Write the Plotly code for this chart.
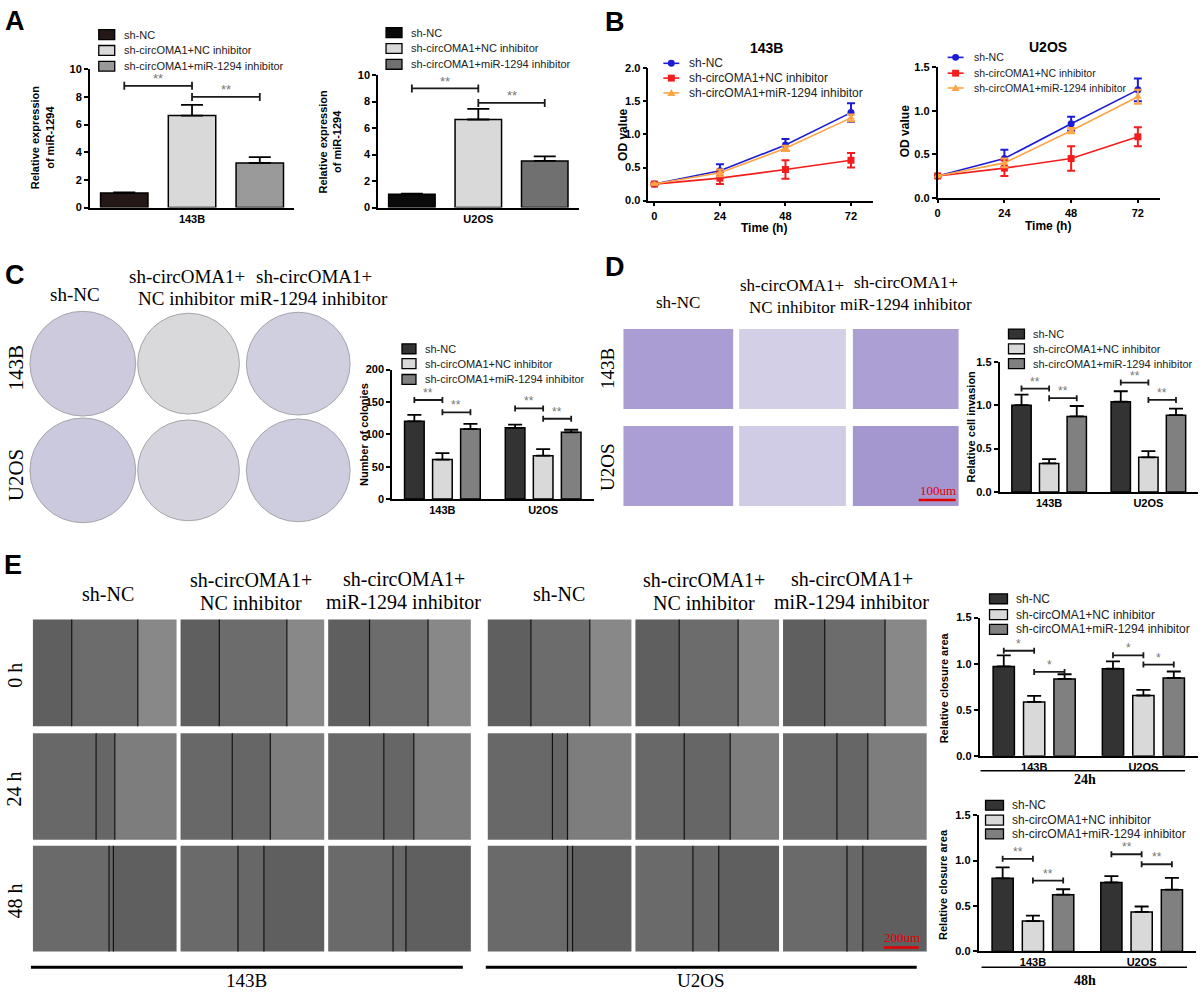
import plotly.graph_objects as go

W, H = 1201, 998
SANS = "Liberation Sans, Arial, sans-serif"
SERIF = "Liberation Serif, Times New Roman, serif"

groups = ["143B", "U2OS"]
series = ["sh-NC", "sh-circOMA1+NC inhibitor", "sh-circOMA1+miR-1294 inhibitor"]

# A - relative expression of miR-1294 (sh-NC, NC inhibitor, miR-1294 inhibitor)
mir_143b = [1.05, 6.65, 3.22]
mir_143b_err = [0.05, 0.78, 0.42]
mir_u2os = [1.00, 6.65, 3.52]
mir_u2os_err = [0.05, 0.80, 0.35]

# B - OD value over time
hours = [0, 24, 48, 72]
od_143b_nc = [0.25, 0.45, 0.84, 1.33]
od_143b_nc_err = [0.01, 0.10, 0.09, 0.14]
od_143b_nci = [0.25, 0.34, 0.47, 0.61]
od_143b_nci_err = [0.01, 0.09, 0.14, 0.11]
od_143b_mir = [0.25, 0.42, 0.79, 1.25]
od_143b_mir_err = [0.01, 0.05, 0.04, 0.05]
od_u2os_nc = [0.25, 0.45, 0.85, 1.24]
od_u2os_nc_err = [0.01, 0.10, 0.08, 0.13]
od_u2os_nci = [0.25, 0.34, 0.45, 0.70]
od_u2os_nci_err = [0.01, 0.09, 0.14, 0.11]
od_u2os_mir = [0.25, 0.40, 0.77, 1.16]
od_u2os_mir_err = [0.01, 0.05, 0.03, 0.08]

# C - number of colonies (143B, U2OS)
colonies_nc = [120, 110]
colonies_nc_err = [10, 5]
colonies_nci = [61, 67]
colonies_nci_err = [10, 10]
colonies_mir = [108, 103]
colonies_mir_err = [8, 4]

# D - relative cell invasion
invasion_nc = [1.00, 1.04]
invasion_nc_err = [0.12, 0.12]
invasion_nci = [0.33, 0.40]
invasion_nci_err = [0.05, 0.07]
invasion_mir = [0.87, 0.885]
invasion_mir_err = [0.12, 0.075]

# E - relative closure area
closure24_nc = [0.97, 0.945]
closure24_nc_err = [0.12, 0.08]
closure24_nci = [0.585, 0.655]
closure24_nci_err = [0.065, 0.06]
closure24_mir = [0.835, 0.845]
closure24_mir_err = [0.05, 0.07]
closure48_nc = [0.805, 0.76]
closure48_nc_err = [0.12, 0.07]
closure48_nci = [0.335, 0.435]
closure48_nci_err = [0.06, 0.06]
closure48_mir = [0.625, 0.68]
closure48_mir_err = [0.06, 0.13]

# significance brackets: (group, bar from, bar to, level, label)
sig_a_143b = [(0, 0, 1, 8.8, "**"), (0, 1, 2, 8.0, "**")]
sig_a_u2os = [(0, 0, 1, 9.0, "**"), (0, 1, 2, 7.9, "**")]
sig_colonies = [(0, 0, 1, 153, "**"), (0, 1, 2, 134, "**"), (1, 0, 1, 140, "**"), (1, 1, 2, 124, "**")]
sig_invasion = [(0, 0, 1, 1.19, "**"), (0, 1, 2, 1.08, "**"), (1, 0, 1, 1.26, "**"), (1, 1, 2, 1.06, "**")]
sig_24h = [(0, 0, 1, 1.14, "*"), (0, 1, 2, 0.91, "*"), (1, 0, 1, 1.09, "*"), (1, 1, 2, 0.99, "*")]
sig_48h = [(0, 0, 1, 1.02, "**"), (0, 1, 2, 0.78, "**"), (1, 0, 1, 1.07, "**"), (1, 1, 2, 0.96, "**")]

# wound edges in the scratch pictures, as fractions of picture width (0 h, 24 h, 48 h)
wound_143b = [[(0.27, 0.73), (0.27, 0.74), (0.29, 0.70)],
              [(0.44, 0.57), (0.36, 0.625), (0.39, 0.60)],
              [(0.53, 0.56), (0.40, 0.58), (0.455, 0.545)]]
wound_u2os = [[(0.30, 0.71), (0.305, 0.715), (0.29, 0.71)],
              [(0.45, 0.555), (0.34, 0.66), (0.375, 0.59)],
              [(0.555, 0.59), (0.40, 0.58), (0.445, 0.555)]]
time_labels = ["0 h", "24 h", "48 h"]

BARGAP = 0.165
SLOT = (1 - BARGAP) / 3
TICKFONT = dict(family=SANS, size=11, color="black", weight="bold")

traces = []
shapes = []
annotations = []
layout = dict(width=W, height=H, margin=dict(l=0, r=0, t=0, b=0),
              paper_bgcolor="white", plot_bgcolor="rgba(0,0,0,0)",
              barmode="group", bargap=BARGAP, bargroupgap=0.3, showlegend=False)


def px(x):
    return x / W


def py(y):
    return 1 - y / H


def label(x, y, s, size, family=SANS, bold=False, color="black", angle=0, xanchor="center"):
    annotations.append(dict(x=px(x), y=py(y), xref="paper", yref="paper", text=s, showarrow=False,
                            font=dict(family=family, size=size, color=color,
                                      weight="bold" if bold else "normal"),
                            textangle=angle, xanchor=xanchor, yanchor="middle"))


def rect(x0, y0, x1, y1, fill, line="black", lw=0):
    shapes.append(dict(type="rect", xref="paper", yref="paper", x0=px(x0), x1=px(x1),
                       y0=py(y1), y1=py(y0), fillcolor=fill,
                       line=dict(color=line, width=lw)))


def seg(x0, y0, x1, y1, color="black", w=1.5):
    shapes.append(dict(type="line", xref="paper", yref="paper", x0=px(x0), x1=px(x1),
                       y0=py(y0), y1=py(y1), line=dict(color=color, width=w)))


def axes(n, xpx, ypx, xr, yr, dtick, fmt, cat=True, tickvals=None):
    s = "" if n == 1 else str(n)
    xa = dict(domain=[px(xpx[0]), px(xpx[1])], anchor="y" + s, range=xr, showline=True,
              linecolor="black", linewidth=1.6, showgrid=False, zeroline=False,
              tickfont=TICKFONT, fixedrange=True)
    if cat:
        xa.update(type="category", ticks="")
    else:
        xa.update(ticks="outside", ticklen=4, tickwidth=1.6, tickcolor="black",
                  tickmode="array", tickvals=tickvals)
    ya = dict(domain=[py(ypx[1]), py(ypx[0])], anchor="x" + s, range=yr, dtick=dtick, tick0=0,
              showline=True, linecolor="black", linewidth=1.6, showgrid=False, zeroline=False,
              ticks="outside", ticklen=4, tickwidth=1.6, tickcolor="black",
              tickfont=TICKFONT, tickformat=fmt, fixedrange=True)
    layout["xaxis" + s] = xa
    layout["yaxis" + s] = ya
    return "x" + s, "y" + s


def bars(xref, yref, cats, vals, errs, colors, capw=7):
    for name, v, e, c in zip(series, vals, errs, colors):
        traces.append(go.Bar(x=cats, y=v, name=name, xaxis=xref, yaxis=yref,
                             marker=dict(color=c, line=dict(color="black", width=1.5)),
                             error_y=dict(type="data", array=e, arrayminus=[0] * len(e),
                                          symmetric=False, color="black", thickness=1.8,
                                          width=capw)))


def brackets(xref, yref, sig, tick=4, star=13):
    for g, i, j, lvl, lab in sig:
        xa = g + (i - 1) * SLOT
        xb = g + (j - 1) * SLOT
        shapes.append(dict(type="line", xref=xref, yref=yref, x0=xa, x1=xb, y0=lvl, y1=lvl,
                           line=dict(color="#1a1a1a", width=1.8)))
        for xe in (xa, xb):
            shapes.append(dict(type="line", xref=xref, yref=yref, x0=xe, x1=xe,
                               ysizemode="pixel", yanchor=lvl, y0=-tick, y1=tick,
                               line=dict(color="#1a1a1a", width=1.8)))
        annotations.append(dict(x=(xa + xb) / 2, y=lvl, xref=xref, yref=yref, text=lab,
                                showarrow=False, yanchor="middle", yshift=7,
                                font=dict(family=SANS, size=star, color="#777777")))


def bar_legend(x0, ys, size, colors, bw=16, bh=10):
    for y, c, name in zip(ys, colors, series):
        rect(x0, y - bh / 2, x0 + bw, y + bh / 2, c, "black", 1.3)
        label(x0 + bw + 7, y, name, size, color="#222222", xanchor="left")


def line_legend(xc, ys, size, colors):
    for k, (y, c, name) in enumerate(zip(ys, colors, series)):
        seg(xc - 8, y, xc + 8, y, c, 1.6)
        r = 3.5
        if k == 0:
            shapes.append(dict(type="circle", xref="paper", yref="paper", x0=px(xc - r),
                               x1=px(xc + r), y0=py(y + r), y1=py(y - r), fillcolor=c,
                               line=dict(color=c, width=0)))
        elif k == 1:
            rect(xc - r, y - r, xc + r, y + r, c, c, 0)
        else:
            path = "M {:.5f},{:.5f} L {:.5f},{:.5f} L {:.5f},{:.5f} Z".format(
                px(xc - 4), py(y + 3), px(xc + 4), py(y + 3), px(xc), py(y - 4))
            shapes.append(dict(type="path", xref="paper", yref="paper", path=path,
                               fillcolor=c, line=dict(color=c, width=0)))
        label(xc + 16, y, name, size, color="#222222", xanchor="left")


# ---------------- panel A ----------------
xa1, ya1 = axes(1, (87, 292), (64, 204), [-0.42, 0.42], [0, 10], 2, "d")
bars(xa1, ya1, groups[:1], [[v] for v in mir_143b], [[e] for e in mir_143b_err],
     ["#231815", "#d9d9d9", "#9a9a9a"], capw=11)
brackets(xa1, ya1, sig_a_143b)
bar_legend(96, [29, 45, 61], 11, ["#231815", "#d9d9d9", "#9a9a9a"])
label(40, 133, "Relative expression<br>of miR-1294", 11, bold=True, angle=-90)

xa2, ya2 = axes(2, (376, 577), (70, 204), [-0.42, 0.42], [0, 10], 2, "d")
bars(xa2, ya2, groups[1:], [[v] for v in mir_u2os], [[e] for e in mir_u2os_err],
     ["#0a0a0a", "#d9d9d9", "#707070"], capw=11)
brackets(xa2, ya2, sig_a_u2os)
bar_legend(384, [27, 43, 59], 11, ["#0a0a0a", "#d9d9d9", "#707070"])
label(328, 137, "Relative expression<br>of miR-1294", 11, bold=True, angle=-90)
label(12, 15, "A", 27, bold=True)

# ---------------- panel B ----------------
line_colors = ["#1c1cd6", "#f41c1c", "#ffa445"]
symbols = ["circle", "square", "triangle-up"]


def od_lines(xref, yref, vals, errs):
    for name, v, e, c, sym in zip(series, vals, errs, line_colors, symbols):
        traces.append(go.Scatter(x=hours, y=v, name=name, xaxis=xref, yaxis=yref,
                                 mode="lines+markers", cliponaxis=False,
                                 line=dict(color=c, width=1.6),
                                 marker=dict(symbol=sym, size=7, color=c),
                                 error_y=dict(type="data", array=e, color=c, thickness=2,
                                              width=4)))


xb1, yb1 = axes(3, (647, 872), (63, 197), [-2.2, 80], [0, 2], 0.5, ".1f", cat=False,
                tickvals=hours)
od_lines(xb1, yb1, [od_143b_nc, od_143b_nci, od_143b_mir],
         [od_143b_nc_err, od_143b_nci_err, od_143b_mir_err])
line_legend(670, [58, 73, 88], 12, line_colors)
label(765, 43, "143B", 14, bold=True)
label(763, 225, "Time (h)", 12, bold=True)
label(622, 130, "OD value", 12, bold=True, angle=-90)

xb2, yb2 = axes(4, (937, 1160), (62, 194), [0, 80], [0, 1.5], 0.5, ".1f", cat=False,
                tickvals=hours)
od_lines(xb2, yb2, [od_u2os_nc, od_u2os_nci, od_u2os_mir],
         [od_u2os_nc_err, od_u2os_nci_err, od_u2os_mir_err])
line_legend(955, [52, 68, 83], 10.5, line_colors)
label(1048, 42, "U2OS", 14, bold=True)
label(1048, 223, "Time (h)", 12, bold=True)
label(905, 127, "OD value", 12, bold=True, angle=-90)
label(614, 16, "B", 27, bold=True)

# ---------------- panel C ----------------
label(12, 272, "C", 27, bold=True)
label(72, 292, "sh-NC", 19, family=SERIF)
for xc, second in ((184, "NC inhibitor"), (312, "miR-1294 inhibitor")):
    label(xc, 274, "sh-circOMA1+", 19, family=SERIF)
    label(xc, 296, second, 19, family=SERIF)
label(13, 366, "143B", 21, family=SERIF, angle=-90)
label(13, 474, "U2OS", 21, family=SERIF, angle=-90)
plate_fill = [["#cccadc", "#d9d9dc", "#d0cfdf"], ["#cbc9dd", "#d5d4de", "#cecde0"]]
for r, cy in enumerate((362, 470)):
    for c, (cx, rad) in enumerate(((80, 53), (186, 51), (296, 52))):
        shapes.append(dict(type="circle", xref="paper", yref="paper", x0=px(cx - rad),
                           x1=px(cx + rad), y0=py(cy + rad), y1=py(cy - rad),
                           fillcolor=plate_fill[r][c], line=dict(color="#a5a5aa", width=1)))

dark3 = ["#333333", "#d9d9d9", "#808080"]
xc5, yc5 = axes(5, (390, 592), (368, 499), [-0.5, 1.5], [0, 200], 50, "d")
bars(xc5, yc5, groups, [colonies_nc, colonies_nci, colonies_mir],
     [colonies_nc_err, colonies_nci_err, colonies_mir_err], dark3)
brackets(xc5, yc5, sig_colonies, tick=3, star=12)
bar_legend(400, [347, 362, 378], 11, dark3, bw=14, bh=10)
label(362, 434, "Number of colonies", 11, bold=True, angle=-90)

# ---------------- panel D ----------------
label(614, 264, "D", 27, bold=True)
label(677, 300, "sh-NC", 17, family=SERIF)
label(791, 283, "sh-circOMA1+", 17, family=SERIF)
label(791, 305, "NC inhibitor", 17, family=SERIF)
label(905, 280, "sh-circOMA1+", 17, family=SERIF)
label(905, 302, "miR-1294 inhibitor", 17, family=SERIF)
label(606, 367, "143B", 19, family=SERIF, angle=-90)
label(606, 466, "U2OS", 19, family=SERIF, angle=-90)
well_fill = [["#a99dd3", "#d3cfe6", "#ab9fd4"], ["#aa9ed4", "#d0cce5", "#a497d0"]]
for r, (y0, y1) in enumerate(((327, 408), (425, 506))):
    for c, (x0, x1) in enumerate(((622, 732), (738, 845), (852, 958))):
        rect(x0, y0, x1, y1, well_fill[r][c])
seg(918, 500, 955, 500, "#e00000", 2.5)
label(937, 490, "100um", 13, family=SERIF, color="#e00000")

xd6, yd6 = axes(6, (999, 1198), (360, 492), [-0.5, 1.5], [0, 1.5], 0.5, ".1f")
bars(xd6, yd6, groups, [invasion_nc, invasion_nci, invasion_mir],
     [invasion_nc_err, invasion_nci_err, invasion_mir_err], dark3)
brackets(xd6, yd6, sig_invasion, tick=3, star=12)
bar_legend(1008, [332, 347, 362], 11, dark3, bw=16, bh=10)
label(970, 426, "Relative cell invasion", 11, bold=True, angle=-90)

# ---------------- panel E ----------------
label(10, 566, "E", 27, bold=True)
wound_rows = [(621, 729), (736, 844), (850, 957)]
wound_tone = [("#5f5f5f", "#6c6c6c", "#888888"),
              ("#686868", "#666666", "#7d7d7d"),
              ("#6a6a6a", "#676767", "#5f5f5f")]
for cols, edges, head_x, bar_x, cell in (
        (((30, 174), (178, 322), (326, 469)), wound_143b, (105, 249, 402), (28, 461), "143B"),
        (((486, 630), (634, 778), (782, 926)), wound_u2os, (557, 703, 851), (484, 916), "U2OS")):
    label(head_x[0], 595, "sh-NC", 20, family=SERIF)
    label(head_x[1], 581, "sh-circOMA1+", 20, family=SERIF)
    label(head_x[1], 604, "NC inhibitor", 20, family=SERIF)
    label(head_x[2], 580, "sh-circOMA1+", 20, family=SERIF)
    label(head_x[2], 603, "miR-1294 inhibitor", 20, family=SERIF)
    for r, (y0, y1) in enumerate(wound_rows):
        for c, (x0, x1) in enumerate(cols):
            a, b = edges[r][c]
            xl = x0 + a * (x1 - x0)
            xr = x0 + b * (x1 - x0)
            rect(x0, y0, xl, y1, wound_tone[r][0])
            rect(xl, y0, xr, y1, wound_tone[r][1])
            rect(xr, y0, x1, y1, wound_tone[r][2])
            seg(xl, y0, xl, y1, "#111111", 1.2)
            seg(xr, y0, xr, y1, "#111111", 1.2)
    seg(bar_x[0], 973, bar_x[1], 973, "black", 3)
    label((bar_x[0] + bar_x[1]) / 2, 986, cell, 19, family=SERIF)
for t, (y0, y1) in zip(time_labels, wound_rows):
    label(12, (y0 + y1) / 2 + 2, t, 20, family=SERIF, angle=-90)
seg(883, 953, 918, 953, "#e00000", 2.5)
label(901, 943, "200um", 13, family=SERIF, color="#e00000")

xe7, ye7 = axes(7, (979, 1198), (619, 759), [-0.5, 1.5], [0, 1.5], 0.5, ".1f")
bars(xe7, ye7, groups, [closure24_nc, closure24_nci, closure24_mir],
     [closure24_nc_err, closure24_nci_err, closure24_mir_err], dark3)
brackets(xe7, ye7, sig_24h, tick=3, star=12)
bar_legend(989, [600, 616, 631], 12, dark3, bw=18, bh=10)
label(943, 690, "Relative closure area", 11, bold=True, angle=-90)
seg(980, 774, 1185, 774, "black", 1.5)
label(1085, 783, "24h", 14, family=SERIF, bold=True)

xe8, ye8 = axes(8, (978, 1196), (819, 957), [-0.5, 1.5], [0, 1.5], 0.5, ".1f")
bars(xe8, ye8, groups, [closure48_nc, closure48_nci, closure48_mir],
     [closure48_nc_err, closure48_nci_err, closure48_mir_err], dark3)
brackets(xe8, ye8, sig_48h, tick=3, star=12)
bar_legend(985, [809, 824, 838], 12, dark3, bw=18, bh=10)
label(943, 889, "Relative closure area", 11, bold=True, angle=-90)
seg(981, 973, 1187, 973, "black", 1.5)
label(1085, 986, "48h", 14, family=SERIF, bold=True)

layout["shapes"] = shapes
layout["annotations"] = annotations
fig = go.Figure(data=traces, layout=layout)
# the page body has a default margin; drop it so the figure sits at the window origin
fig.write_html("out.html", config={"displayModeBar": False},
               post_script="document.body.style.margin='0px';")
